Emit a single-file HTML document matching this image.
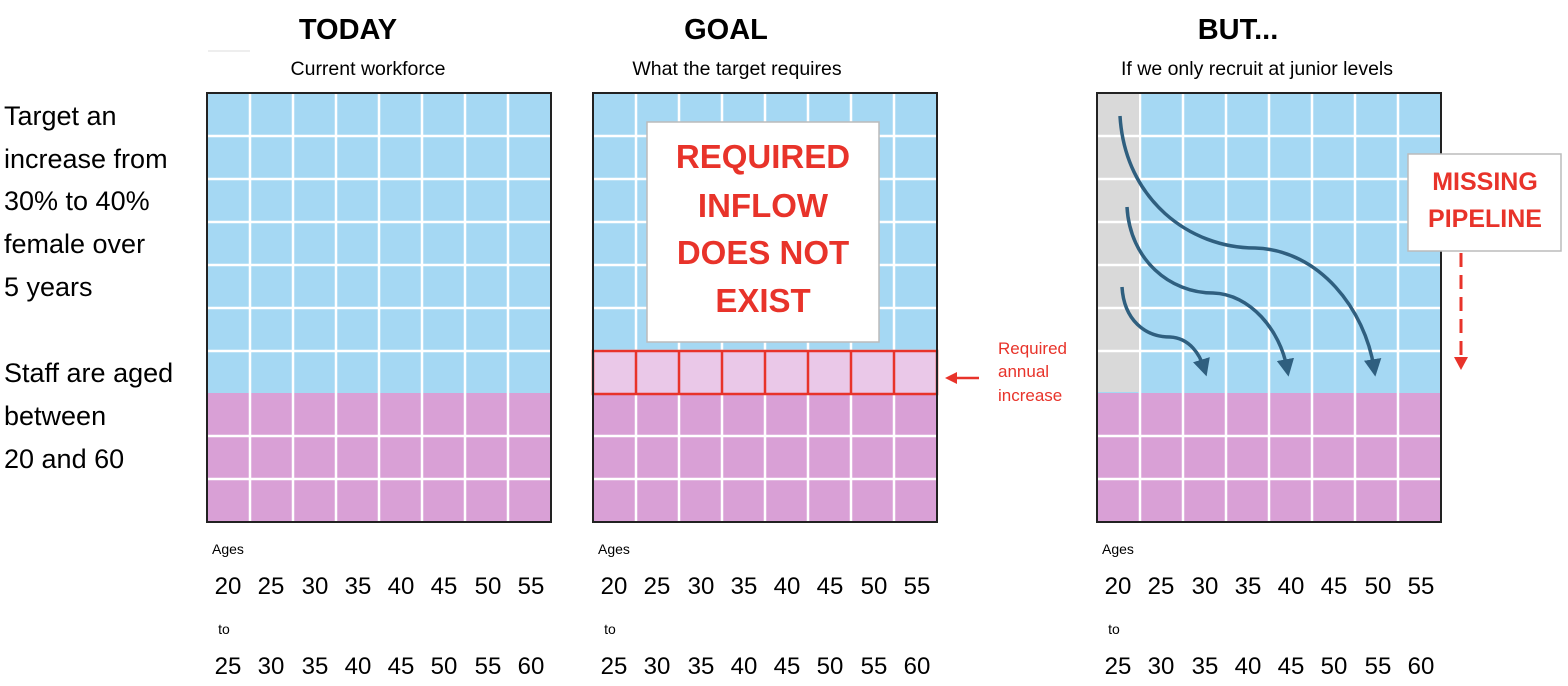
<!DOCTYPE html>
<html><head><style>body{margin:0;background:#fff;overflow:hidden}svg{display:block}</style></head><body>
<svg width="1568" height="686" xmlns="http://www.w3.org/2000/svg" font-family="Liberation Sans, sans-serif">
<defs>
<g id="grid">
<rect x="0" y="0" width="344" height="300" fill="#a5d8f3"/>
<rect x="0" y="300" width="344" height="129" fill="#d9a0d6"/>
<g stroke="#fff" stroke-width="2.5">
<line x1="43" y1="0" x2="43" y2="429"/><line x1="86" y1="0" x2="86" y2="429"/><line x1="129" y1="0" x2="129" y2="429"/><line x1="172" y1="0" x2="172" y2="429"/><line x1="215" y1="0" x2="215" y2="429"/><line x1="258" y1="0" x2="258" y2="429"/><line x1="301" y1="0" x2="301" y2="429"/>
<line x1="0" y1="43" x2="344" y2="43"/><line x1="0" y1="86" x2="344" y2="86"/><line x1="0" y1="129" x2="344" y2="129"/><line x1="0" y1="172" x2="344" y2="172"/><line x1="0" y1="215" x2="344" y2="215"/><line x1="0" y1="258" x2="344" y2="258"/><line x1="0" y1="343" x2="344" y2="343"/><line x1="0" y1="386" x2="344" y2="386"/>
</g>
</g>
<g id="ages" font-size="24" fill="#000" text-anchor="middle">
<text x="5" y="461" font-size="14" text-anchor="start">Ages</text>
<text x="21" y="501">20</text><text x="64" y="501">25</text><text x="108" y="501">30</text><text x="151" y="501">35</text><text x="194" y="501">40</text><text x="237" y="501">45</text><text x="281" y="501">50</text><text x="324" y="501">55</text>
<text x="17" y="541" font-size="14">to</text>
<text x="21" y="581">25</text><text x="64" y="581">30</text><text x="108" y="581">35</text><text x="151" y="581">40</text><text x="194" y="581">45</text><text x="237" y="581">50</text><text x="281" y="581">55</text><text x="324" y="581">60</text>
</g>
<marker id="ah" markerWidth="5" markerHeight="5" refX="2.5" refY="2.5" orient="auto"><path d="M0,0L5,2.5L0,5z" fill="#2f5f7f"/></marker>
</defs>
<line x1="208" y1="51" x2="250" y2="51" stroke="#ddd"/>
<g font-size="27" fill="#000">
<text x="4" y="125">Target an</text><text x="4" y="168">increase from</text><text x="4" y="210">30% to 40%</text><text x="4" y="253">female over</text><text x="4" y="296">5 years</text>
<text x="4" y="382">Staff are aged</text><text x="4" y="425">between</text><text x="4" y="468">20 and 60</text>
</g>
<g font-weight="bold" font-size="29" text-anchor="middle"><text x="348" y="39">TODAY</text><text x="726" y="39">GOAL</text><text x="1238" y="39">BUT...</text></g>
<g font-size="19.5" text-anchor="middle"><text x="368" y="75">Current workforce</text><text x="737" y="75">What the target requires</text><text x="1257" y="75">If we only recruit at junior levels</text></g>

<g transform="translate(207,93)"><use href="#grid"/><rect width="344" height="429" fill="none" stroke="#222" stroke-width="2"/><use href="#ages"/></g>

<g transform="translate(593,93)"><use href="#grid"/>
<rect x="0" y="258" width="344" height="43" fill="#eac8e8"/>
<g stroke="#e8332a" stroke-width="2.5" fill="none"><rect x="0" y="258" width="344" height="43"/>
<line x1="43" y1="258" x2="43" y2="301"/><line x1="86" y1="258" x2="86" y2="301"/><line x1="129" y1="258" x2="129" y2="301"/><line x1="172" y1="258" x2="172" y2="301"/><line x1="215" y1="258" x2="215" y2="301"/><line x1="258" y1="258" x2="258" y2="301"/><line x1="301" y1="258" x2="301" y2="301"/></g>
<rect width="344" height="429" fill="none" stroke="#222" stroke-width="2"/><use href="#ages"/>
<rect x="54" y="29" width="232" height="220" fill="#fff" stroke="#bbb" stroke-width="1.5"/>
<g font-weight="bold" font-size="33" fill="#e8332a" text-anchor="middle"><text x="170" y="75">REQUIRED</text><text x="170" y="124">INFLOW</text><text x="170" y="171">DOES NOT</text><text x="170" y="219">EXIST</text></g>
</g>
<line x1="979" y1="378" x2="957" y2="378" stroke="#e8332a" stroke-width="2.5"/><path d="M945,378l12,-6v12z" fill="#e8332a"/>
<g font-size="17" fill="#e8332a"><text x="998" y="354">Required</text><text x="998" y="377">annual</text><text x="998" y="401">increase</text></g>

<g transform="translate(1097,93)"><use href="#grid"/>
<rect x="0" y="0" width="42" height="299" fill="#d9d9d9"/>
<g stroke="#fff" stroke-width="2.5"><line x1="0" y1="43" x2="42" y2="43"/><line x1="0" y1="86" x2="42" y2="86"/><line x1="0" y1="129" x2="42" y2="129"/><line x1="0" y1="172" x2="42" y2="172"/><line x1="0" y1="215" x2="42" y2="215"/><line x1="0" y1="258" x2="42" y2="258"/></g>
<rect width="344" height="429" fill="none" stroke="#222" stroke-width="2"/><use href="#ages"/>
</g>
<g fill="none" stroke="#2f5f7f" stroke-width="3.5" marker-end="url(#ah)">
<path d="M1120,116 C1125,200 1190,248 1255,248 C1320,250 1365,310 1374,368"/>
<path d="M1127,207 C1130,260 1170,293 1213,293 C1250,294 1280,330 1287,368"/>
<path d="M1122,287 C1124,320 1145,337 1170,337 C1190,338 1200,355 1204,368"/>
</g>
<rect x="1408" y="154" width="153" height="97" fill="#fff" stroke="#bbb" stroke-width="1.5"/>
<g font-weight="bold" font-size="25" fill="#e8332a" text-anchor="middle"><text x="1485" y="190">MISSING</text><text x="1485" y="227">PIPELINE</text></g>
<line x1="1461" y1="253" x2="1461" y2="356" stroke="#e8332a" stroke-width="3" stroke-dasharray="14,8"/>
<path d="M1454,357h14l-7,13z" fill="#e8332a"/>
</svg>
</body></html>
